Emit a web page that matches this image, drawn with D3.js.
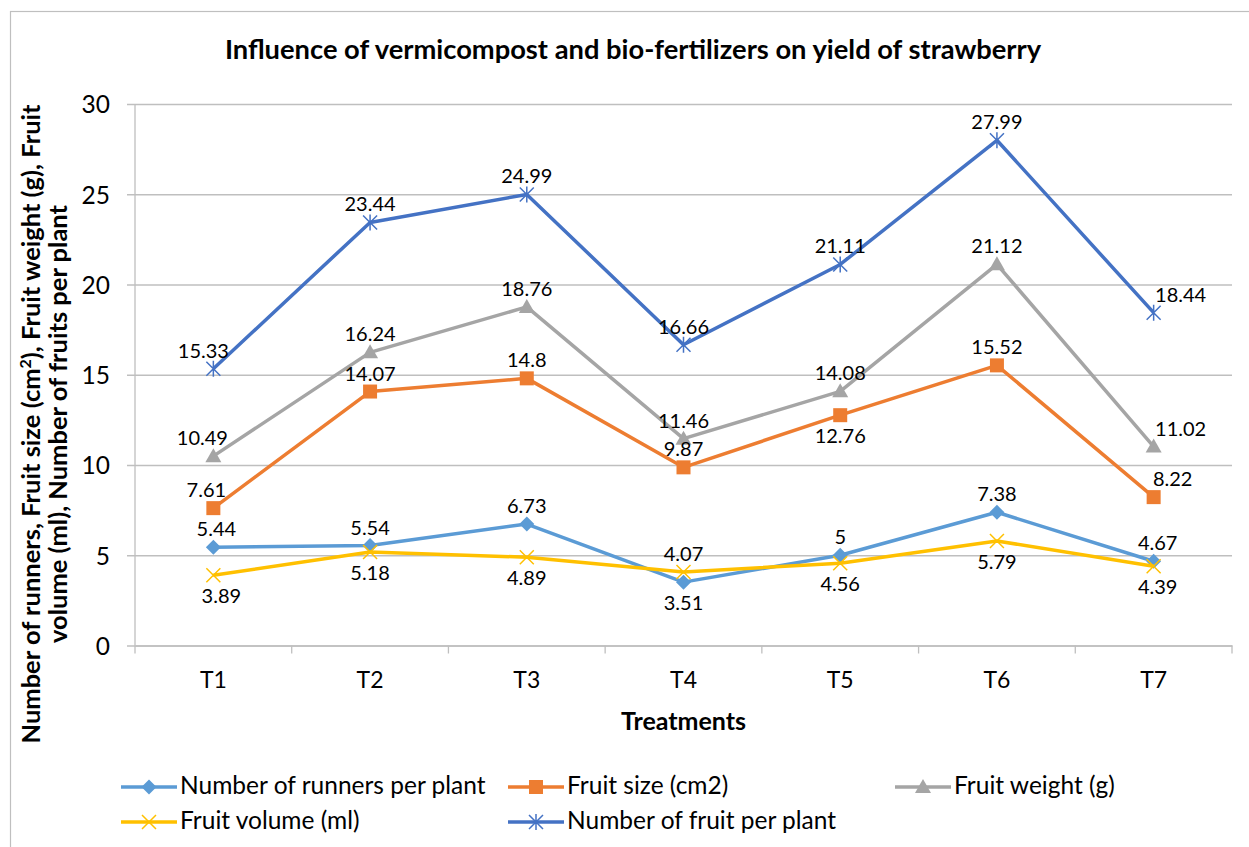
<!DOCTYPE html>
<html>
<head>
<meta charset="utf-8">
<script src="https://cdn.jsdelivr.net/npm/d3@7"></script>
<style>
  body { margin: 0; background: #fff; }
  text { font-family: Lato, "Open Sans", sans-serif; fill: #000; }
</style>
</head>
<body>
<div id="chart"></div>
<script>
// data
var treatments = ['T1', 'T2', 'T3', 'T4', 'T5', 'T6', 'T7'];
var runners = [5.44, 5.54, 6.73, 3.51, 5, 7.38, 4.67];
var fruitSize = [7.61, 14.07, 14.8, 9.87, 12.76, 15.52, 8.22];
var fruitWeight = [10.49, 16.24, 18.76, 11.46, 14.08, 21.12, 11.02];
var fruitVolume = [3.89, 5.18, 4.89, 4.07, 4.56, 5.79, 4.39];
var fruitCount = [15.33, 23.44, 24.99, 16.66, 21.11, 27.99, 18.44];
var yTicks = [0, 5, 10, 15, 20, 25, 30];
// where each data label sits: a = above, b = below
var runnersPos = ['a', 'a', 'a', 'b', 'a', 'a', 'a'];
var sizePos = ['a', 'a', 'a', 'a', 'b', 'a', 'a'];
var weightPos = ['a', 'a', 'a', 'a', 'a', 'a', 'a'];
var volumePos = ['b', 'b', 'b', 'a', 'b', 'b', 'b'];
var countPos = ['a', 'a', 'a', 'a', 'a', 'a', 'a'];
// sideways nudge of the labels (px), as dragged in the original
var runnersDx = [3, 0, 0, 0, 0, 0, 4];
var sizeDx = [-7, 0, 0, 0, 0, 0, 19];
var weightDx = [-11, 0, 0, 0, 0, 0, 27];
var volumeDx = [8, 0, 0, 0, 0, 0, 4];
var countDx = [-10, 0, 0, 0, 0, 0, 27];

var series = [
  {name: 'Number of runners per plant', values: runners, pos: runnersPos, dx: runnersDx, color: '#5B9BD5', marker: 'diamond'},
  {name: 'Fruit size (cm2)', values: fruitSize, pos: sizePos, dx: sizeDx, color: '#ED7D31', marker: 'square'},
  {name: 'Fruit weight (g)', values: fruitWeight, pos: weightPos, dx: weightDx, color: '#A5A5A5', marker: 'triangle'},
  {name: 'Fruit volume (ml)', values: fruitVolume, pos: volumePos, dx: volumeDx, color: '#FFC000', marker: 'x'},
  {name: 'Number of fruit per plant', values: fruitCount, pos: countPos, dx: countDx, color: '#4472C4', marker: 'star'}
];

var W = 1249, H = 847;
var plot = {left: 135, right: 1232, top: 104, bottom: 645.5};

var svg = d3.select('#chart').append('svg')
  .attr('width', W)
  .attr('height', H);

// chart frame
svg.append('rect')
  .attr('x', 10.5).attr('y', 11.5)
  .attr('width', 1260).attr('height', 860)
  .attr('fill', 'none')
  .attr('stroke', '#BFBFBF')
  .attr('stroke-width', 1.2);

var x = d3.scaleBand().domain(treatments).range([plot.left, plot.right]);
var y = d3.scaleLinear().domain([0, 30]).range([plot.bottom, plot.top]);
function cx(i) { return x(treatments[i]) + x.bandwidth() / 2; }

// gridlines + y axis
var yAxis = d3.axisLeft(y).tickValues(yTicks).tickSize(-(plot.right - plot.left)).tickPadding(25);
var gy = svg.append('g').attr('transform', 'translate(' + plot.left + ',0)').call(yAxis);
gy.select('.domain').remove();
gy.selectAll('.tick line').attr('stroke', '#BFBFBF').attr('stroke-width', 1.3).attr('x1', -8);
gy.selectAll('.tick text').style('font-size', '24.5px').attr('dy', '0.36em');

svg.append('line')
  .attr('x1', plot.left).attr('x2', plot.left)
  .attr('y1', plot.top).attr('y2', plot.bottom)
  .attr('stroke', '#BFBFBF').attr('stroke-width', 1.3);

// x axis
var gx = svg.append('g').attr('transform', 'translate(0,' + plot.bottom + ')')
  .call(d3.axisBottom(x).tickSize(0).tickPadding(0));
gx.select('.domain').attr('stroke', '#BFBFBF').attr('stroke-width', 1.3);
gx.selectAll('.tick text').style('font-size', '23px').attr('dy', null).attr('y', 42.5);
svg.append('g').selectAll('line')
  .data(d3.range(treatments.length + 1))
  .enter().append('line')
  .attr('x1', function(d) { return plot.left + d * x.bandwidth(); })
  .attr('x2', function(d) { return plot.left + d * x.bandwidth(); })
  .attr('y1', plot.bottom).attr('y2', plot.bottom + 8)
  .attr('stroke', '#BFBFBF').attr('stroke-width', 1.3);

// titles
svg.append('text')
  .attr('x', 633).attr('y', 59)
  .attr('text-anchor', 'middle')
  .style('font-size', '27.3px').style('font-weight', 'bold')
  .text('Influence of vermicompost and bio-fertilizers on yield of strawberry');

svg.append('text')
  .attr('x', (plot.left + plot.right) / 2).attr('y', 730)
  .attr('text-anchor', 'middle')
  .style('font-size', '25px').style('font-weight', 'bold')
  .text('Treatments');

var ytitle = svg.append('text')
  .attr('transform', 'translate(0,424) rotate(-90)')
  .attr('text-anchor', 'middle')
  .style('font-size', '25.5px').style('font-weight', 'bold');
var l1 = ytitle.append('tspan').attr('x', 0).attr('y', 39.5).text('Number of runners, Fruit size (cm');
l1.append('tspan').attr('dy', -9).style('font-size', '16px').text('2');
l1.append('tspan').attr('dy', 9).text('), Fruit weight (g), Fruit');
ytitle.append('tspan').attr('x', 0).attr('y', 67).text('volume (ml), Number of fruits per plant');

// markers
function drawMarker(g, type, color, px, py) {
  if (type === 'diamond') {
    g.append('path').attr('d', 'M' + px + ',' + (py - 7.5) + 'L' + (px + 7.5) + ',' + py + 'L' + px + ',' + (py + 7.5) + 'L' + (px - 7.5) + ',' + py + 'Z')
      .attr('fill', color);
  } else if (type === 'square') {
    g.append('rect').attr('x', px - 7).attr('y', py - 7).attr('width', 14).attr('height', 14).attr('fill', color);
  } else if (type === 'triangle') {
    g.append('path').attr('d', 'M' + px + ',' + (py - 8) + 'L' + (px + 8) + ',' + (py + 6) + 'L' + (px - 8) + ',' + (py + 6) + 'Z')
      .attr('fill', color);
  } else if (type === 'x') {
    g.append('path').attr('d', 'M' + (px - 7) + ',' + (py - 7) + 'L' + (px + 7) + ',' + (py + 7) + 'M' + (px + 7) + ',' + (py - 7) + 'L' + (px - 7) + ',' + (py + 7))
      .attr('stroke', color).attr('stroke-width', 1.5).attr('fill', 'none');
  } else if (type === 'star') {
    g.append('path').attr('d', 'M' + (px - 7) + ',' + (py - 7) + 'L' + (px + 7) + ',' + (py + 7) + 'M' + (px + 7) + ',' + (py - 7) + 'L' + (px - 7) + ',' + (py + 7) + 'M' + px + ',' + (py - 8) + 'L' + px + ',' + (py + 8))
      .attr('stroke', color).attr('stroke-width', 1.5).attr('fill', 'none');
  }
}

var line = d3.line()
  .x(function(d, i) { return cx(i); })
  .y(function(d) { return y(d); });

series.forEach(function(s) {
  var g = svg.append('g');
  g.append('path')
    .attr('d', line(s.values))
    .attr('fill', 'none')
    .attr('stroke', s.color)
    .attr('stroke-width', 3.5)
    .attr('stroke-linejoin', 'round');
  s.values.forEach(function(v, i) {
    drawMarker(g, s.marker, s.color, cx(i), y(v));
  });
});

// data labels on top
series.forEach(function(s) {
  svg.append('g').selectAll('text')
    .data(s.values)
    .enter().append('text')
    .attr('x', function(d, i) { return cx(i) + s.dx[i]; })
    .attr('y', function(d, i) { return s.pos[i] === 'a' ? y(d) - 11 : y(d) + 28; })
    .attr('text-anchor', 'middle')
    .style('font-size', '20px')
    .text(function(d) { return d; });
});

// legend
var legendItems = [
  {s: series[0], lx: 121, ly: 787},
  {s: series[1], lx: 508, ly: 787},
  {s: series[2], lx: 895, ly: 787},
  {s: series[3], lx: 121, ly: 822},
  {s: series[4], lx: 508, ly: 822}
];
legendItems.forEach(function(it) {
  var g = svg.append('g');
  g.append('line')
    .attr('x1', it.lx).attr('x2', it.lx + 56)
    .attr('y1', it.ly).attr('y2', it.ly)
    .attr('stroke', it.s.color).attr('stroke-width', 3.5);
  drawMarker(g, it.s.marker, it.s.color, it.lx + 28, it.ly);
  g.append('text')
    .attr('x', it.lx + 59).attr('y', it.ly)
    .attr('dy', '0.3em')
    .style('font-size', '24.5px')
    .text(it.s.name);
});
</script>
</body>
</html>
